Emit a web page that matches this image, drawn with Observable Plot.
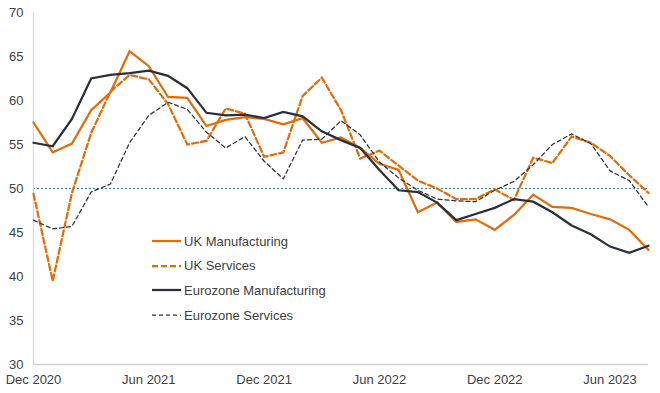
<!DOCTYPE html>
<html><head><meta charset="utf-8">
<script src="https://cdn.jsdelivr.net/npm/d3@7"></script>
<script src="https://cdn.jsdelivr.net/npm/@observablehq/plot@0.6"></script>
<style>
body{margin:0;background:#fff;font-family:"Liberation Sans",Arial,sans-serif;}
#wrap{position:relative;width:660px;height:393px;}
#legend{position:absolute;left:152px;top:229px;font-size:13px;color:#404040;}
#legend .row{display:flex;align-items:center;height:24.6px;}
#legend svg{margin-right:3px;}
</style></head><body>
<div id="wrap"><div id="chart"></div><div id="legend"></div></div>
<script>
const months = ["Dec 2020","Jan 2021","Feb 2021","Mar 2021","Apr 2021","May 2021","Jun 2021","Jul 2021","Aug 2021","Sep 2021","Oct 2021","Nov 2021","Dec 2021","Jan 2022","Feb 2022","Mar 2022","Apr 2022","May 2022","Jun 2022","Jul 2022","Aug 2022","Sep 2022","Oct 2022","Nov 2022","Dec 2022","Jan 2023","Feb 2023","Mar 2023","Apr 2023","May 2023","Jun 2023","Jul 2023","Aug 2023"];
const ukManufacturing = [57.5,54.1,55.1,58.9,60.9,65.6,63.9,60.4,60.3,57.1,57.8,58.1,57.9,57.3,58.0,55.2,55.8,54.6,52.8,52.1,47.3,48.4,46.2,46.5,45.3,47.0,49.3,47.9,47.8,47.1,46.5,45.3,43.0];
const ukServices = [49.4,39.5,49.5,56.3,61.0,62.9,62.4,59.6,55.0,55.4,59.1,58.5,53.6,54.1,60.5,62.6,58.9,53.4,54.3,52.6,50.9,50.0,48.8,48.8,49.9,48.7,53.5,52.9,55.9,55.2,53.7,51.5,49.5];
const ezManufacturing = [55.2,54.8,57.9,62.5,62.9,63.1,63.4,62.8,61.4,58.6,58.3,58.4,58.0,58.7,58.2,56.5,55.5,54.6,52.1,49.8,49.6,48.4,46.4,47.1,47.8,48.8,48.5,47.3,45.8,44.8,43.4,42.7,43.5];
const ezServices = [46.4,45.4,45.7,49.6,50.5,55.2,58.3,59.8,59.0,56.4,54.6,55.9,53.1,51.1,55.5,55.6,57.7,56.1,53.0,51.2,49.8,48.8,48.6,48.5,49.8,50.8,52.7,55.0,56.2,55.1,52.0,50.9,47.9];
const tickLabels = ["Dec 2020","Jun 2021","Dec 2021","Jun 2022","Dec 2022","Jun 2023"];
const yTicks = [30,35,40,45,50,55,60,65,70];
const threshold = 50;

const seriesDefs = [
  {name:"UK Manufacturing", values:ukManufacturing, stroke:"#e36c0a", width:2.25, dash:null},
  {name:"UK Services", values:ukServices, stroke:"#e36c0a", width:2.25, dash:"6,3"},
  {name:"Eurozone Manufacturing", values:ezManufacturing, stroke:"#2b2f3b", width:2.25, dash:null},
  {name:"Eurozone Services", values:ezServices, stroke:"#2b2f3b", width:1.25, dash:"4,3"}
];
const tickIdx = tickLabels.map(l => months.indexOf(l));

const lineMarks = seriesDefs.map(s => Plot.line(s.values.map((v,i)=>({i,v})), {
  x:"i", y:"v", stroke:s.stroke, strokeWidth:s.width, strokeDasharray:s.dash, strokeLinejoin:"miter", strokeMiterlimit:2
}));

const chart = Plot.plot({
  width:660, height:393,
  marginLeft:33, marginRight:12, marginTop:12, marginBottom:29,
  style:{fontFamily:"'Liberation Sans', Arial, sans-serif", fontSize:"13px", color:"#404040", background:"#fff"},
  x:{type:"linear", domain:[0, months.length-1]},
  y:{domain:[30,70]},
  marks:[
    Plot.axisY({ticks:yTicks, tickSize:0, tickPadding:10, label:null, fontSize:13}),
    Plot.axisX({ticks:tickIdx, tickFormat:i=>months[i], tickSize:0, tickPadding:10, label:null, fontSize:13}),
    Plot.ruleY([threshold], {stroke:"#2f7f8e", strokeWidth:1, strokeDasharray:"2,2"}),
    Plot.ruleX([0], {stroke:"#d9d9d9", strokeWidth:1.25}),
    Plot.ruleY([30], {stroke:"#d0d0d0", strokeWidth:1.5}),
    ...lineMarks
  ]
});
document.getElementById("chart").appendChild(chart);

const leg = document.getElementById("legend");
seriesDefs.forEach(s => {
  const row = document.createElement("div"); row.className="row";
  row.innerHTML = `<svg width="29" height="6"><line x1="0" x2="29" y1="3" y2="3" stroke="${s.stroke}" stroke-width="${s.width}" ${s.dash?`stroke-dasharray="${s.dash}"`:""}/></svg><span>${s.name}</span>`;
  leg.appendChild(row);
});
</script>
</body></html>
